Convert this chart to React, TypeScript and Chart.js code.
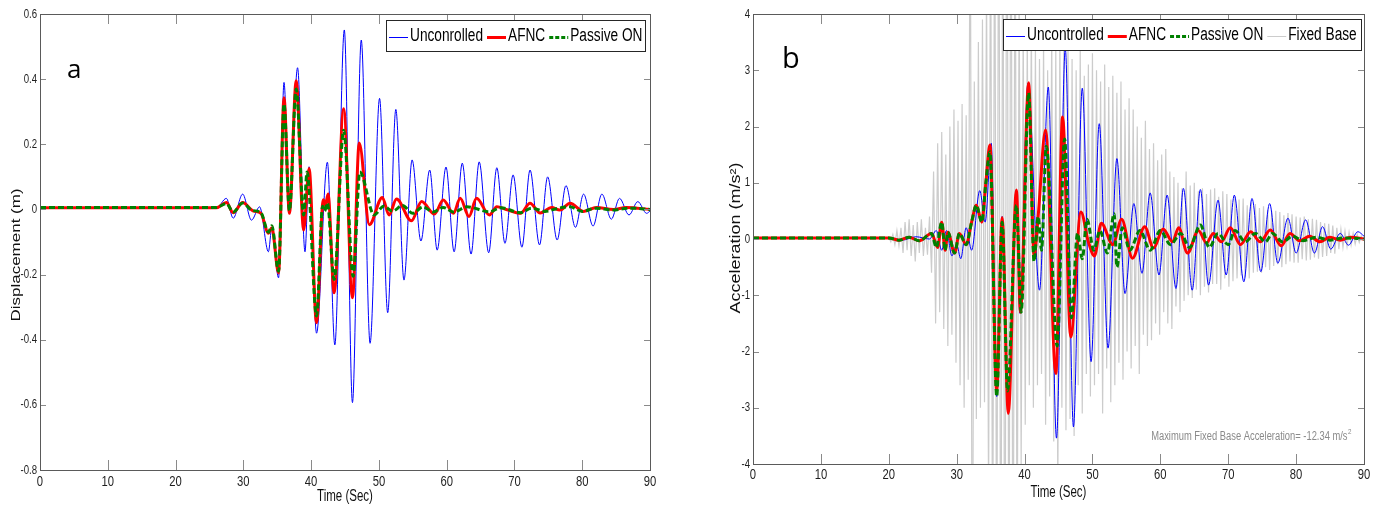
import { useEffect, useRef } from "react";
import { Chart, registerables } from "chart.js";

Chart.register(...registerables);

const SANS = "'Liberation Sans', Arial, sans-serif";
const LETTER = "'Open Sans', 'Noto Sans', sans-serif";

// ---------- Panel a: displacement (m) ----------
const dispUncTime = [0, 26, 27.5, 28.5, 29.9, 31.2, 32.4, 33.7, 34.2, 35.2, 36.0, 36.8, 38.0, 39.1, 39.7, 40.8, 42.4, 43.5, 44.9, 46.1, 47.4, 48.7, 50.1, 51.3, 52.5, 53.7, 54.9, 56.2, 57.5, 58.6, 59.9, 61.1, 62.3, 63.6, 64.8, 66.2, 67.4, 68.6, 69.8, 71.1, 72.3, 73.7, 74.9, 76.3, 77.6, 79.0, 80.2, 81.6, 82.9, 84.3, 85.5, 86.9, 88.2, 89.5, 90];
const dispUnc = [0.003, 0.003, 0.034, -0.027, 0.047, -0.033, 0.008, -0.13, -0.057, -0.21, 0.39, -0.007, 0.435, -0.13, 0.131, -0.38, 0.145, -0.416, 0.551, -0.593, 0.52, -0.411, 0.341, -0.317, 0.307, -0.217, 0.152, -0.097, 0.121, -0.125, 0.13, -0.13, 0.142, -0.137, 0.146, -0.133, 0.128, -0.104, 0.106, -0.116, 0.121, -0.109, 0.1, -0.094, 0.073, -0.055, 0.047, -0.051, 0.047, -0.03, 0.034, -0.017, 0.024, -0.012, -0.005];

const dispAfncTime = [0, 26, 27.5, 28.5, 29.9, 31.5, 32.6, 33.7, 34.2, 35.2, 36.0, 36.8, 37.8, 38.9, 39.7, 40.8, 41.8, 42.1, 42.5, 43.4, 44.8, 46.1, 47.1, 48.6, 50.5, 51.5, 52.6, 54.8, 56.3, 58.2, 59.5, 61.0, 62.0, 63.3, 64.4, 66.3, 67.4, 68.8, 70.9, 72.3, 73.8, 75.5, 76.7, 78.2, 80.2, 82.1, 84.6, 86.5, 90];
const dispAfnc = [0.005, 0.005, 0.021, -0.01, 0.021, -0.005, -0.012, -0.073, -0.056, -0.195, 0.343, -0.012, 0.395, -0.063, 0.126, -0.348, 0.03, 0.012, 0.047, -0.256, 0.309, -0.271, 0.204, -0.047, 0.037, -0.017, 0.032, -0.035, 0.024, -0.014, 0.029, -0.012, 0.034, -0.022, 0.034, -0.017, 0.008, 0.0, -0.012, 0.019, -0.011, 0.006, -0.002, 0.019, -0.006, 0.006, 0.0, 0.006, 0.0];

const dispPassTime = [0, 26, 27.5, 28.5, 29.9, 31.3, 32.6, 33.7, 34.2, 35.2, 36.0, 36.8, 37.8, 38.9, 39.4, 40.8, 41.7, 42.0, 42.4, 43.4, 44.8, 46.2, 47.2, 49.3, 50.7, 52.0, 53.5, 55.0, 56.5, 58.0, 59.5, 61.0, 63.0, 66.3, 68.0, 70.9, 72.5, 74.5, 76.5, 78.2, 80.0, 82.0, 84.5, 87.0, 90];
const dispPass = [0.006, 0.006, 0.018, -0.008, 0.02, -0.003, -0.01, -0.07, -0.05, -0.19, 0.324, -0.003, 0.37, -0.017, 0.115, -0.327, 0.01, -0.005, 0.02, -0.215, 0.243, -0.205, 0.115, -0.017, 0.01, -0.005, 0.012, -0.012, 0.008, -0.008, 0.006, -0.008, 0.008, -0.007, 0.005, -0.01, 0.004, -0.006, 0.004, 0.008, -0.006, 0.004, -0.002, 0.004, 0.0];

// ---------- Panel b: acceleration (m/s^2) ----------
const accUncTime = [0, 20, 22, 24, 26, 27.0, 27.8, 28.5, 29.3, 30.0, 30.6, 31.4, 32.2, 33.4, 34.2, 35.1, 35.9, 36.7, 37.6, 38.8, 39.3, 40.5, 42.2, 43.5, 44.7, 46.0, 47.2, 48.5, 49.8, 51.0, 52.3, 53.6, 54.8, 56.1, 57.3, 58.5, 59.8, 61.0, 62.3, 63.4, 64.7, 65.9, 67.1, 68.5, 69.7, 70.9, 72.3, 73.5, 74.8, 76.1, 77.3, 78.8, 80.0, 81.4, 82.7, 83.9, 85.1, 86.5, 87.7, 89.1, 90];
const accUnc = [0.02, 0.02, -0.02, 0.04, 0.0, 0.15, -0.2, 0.15, -0.3, -0.1, -0.35, 0.2, -0.2, 0.86, 0.3, 1.7, -2.8, 0.4, -3.07, 0.87, -1.32, 2.77, -0.91, 2.7, -3.54, 3.39, -3.34, 2.68, -2.18, 2.05, -1.94, 1.43, -0.97, 0.63, -0.61, 0.82, -0.64, 0.78, -0.88, 0.9, -0.91, 0.88, -0.82, 0.69, -0.64, 0.78, -0.76, 0.72, -0.58, 0.63, -0.43, 0.37, -0.25, 0.34, -0.25, 0.22, -0.18, 0.1, -0.11, 0.13, 0.05];

const accAfncTime = [0, 20, 21.5, 23, 24.5, 26.3, 27.2, 27.8, 28.3, 28.7, 29.7, 30.4, 31.4, 32.2, 32.9, 33.7, 34.3, 34.9, 35.9, 36.7, 37.6, 38.8, 39.4, 40.6, 41.4, 42.0, 43.1, 44.6, 45.6, 46.8, 48.3, 49.4, 50.3, 51.3, 53.0, 54.3, 55.9, 57.7, 59.0, 60.4, 61.8, 62.7, 64.0, 65.6, 66.8, 67.8, 69.0, 70.3, 71.8, 73.3, 74.7, 76.2, 77.8, 79.1, 80.5, 82.0, 83.5, 85.0, 86.5, 88.0, 90];
const accAfnc = [0.02, 0.02, -0.02, 0.03, -0.03, 0.1, -0.15, 0.3, -0.2, 0.12, -0.25, 0.1, -0.1, 0.3, 0.6, 0.3, 1.0, 1.67, -2.71, 0.38, -3.1, 0.87, -1.3, 2.78, -0.31, 0.4, 1.94, -2.39, 2.17, -1.74, 0.48, -0.05, -0.3, 0.28, -0.1, 0.35, -0.34, 0.22, -0.16, 0.18, -0.05, 0.2, -0.25, 0.15, -0.07, 0.1, -0.05, 0.2, -0.1, 0.13, -0.05, 0.16, -0.12, 0.1, -0.03, 0.05, -0.05, 0.03, -0.02, 0.03, 0.0];

const accPassTime = [0, 20, 21.5, 23, 24.5, 26.3, 27.0, 27.8, 28.3, 28.7, 29.7, 30.4, 31.4, 32.2, 32.9, 33.7, 34.3, 34.9, 35.9, 36.7, 37.5, 38.8, 39.5, 40.6, 41.4, 42.0, 42.5, 43.2, 44.8, 45.9, 46.9, 47.8, 48.5, 49.2, 50.2, 51.1, 52.2, 53.2, 53.6, 54.4, 55.5, 57.0, 58.5, 60.0, 61.5, 63.0, 64.3, 65.9, 67.2, 68.5, 70.0, 71.0, 72.5, 74.0, 75.5, 76.5, 78.0, 79.5, 81.0, 83.0, 85.0, 87.0, 90];
const accPass = [0.02, 0.02, -0.02, 0.03, -0.03, 0.1, -0.15, 0.3, -0.2, 0.12, -0.25, 0.1, -0.1, 0.3, 0.6, 0.3, 1.0, 1.55, -2.8, 0.3, -2.7, 0.6, -1.3, 2.6, -0.4, 0.4, -0.2, 1.65, -1.9, 1.78, -1.4, 0.1, -0.35, 0.35, -0.2, 0.15, -0.25, 0.45, -0.5, 0.2, -0.2, 0.15, -0.2, 0.15, -0.1, 0.1, -0.15, 0.25, -0.15, 0.1, -0.1, 0.15, -0.05, 0.1, -0.05, 0.1, -0.05, 0.05, -0.03, 0.03, -0.02, 0.02, 0.0];

// Fixed-base response, sampled every 0.3 s from 20 s
const fixedBaseStart = 20;
const fixedBaseStep = 0.3;
const fixedBase = [
  0.03, -0.05, 0.08, -0.1, 0.15, -0.12, 0.2, -0.25, 0.3, -0.2,
  0.35, -0.3, 0.25, -0.4, 0.3, -0.25, 0.35, -0.3, 0.2, -0.28,
  0.4, -0.6, 1.2, -1.5, 1.7, -1.3, 1.9, -1.6, 1.5, -1.9,
  2.0, -1.7, 2.3, -2.2, 2.1, -2.6, 2.4, -3.0, 2.2, -2.5,
  7.0, -8.0, 2.8, -3.2, 3.5, -3.0, 3.9, -2.9, 4.6, -4.8,
  6.5, -7.0, 7.5, -8.0, 9.0, -9.0, 8.0, -9.5, 10.0, -8.5,
  9.0, -9.0, 7.5, -6.5, 4.5, -4.0, 3.8, -3.3, 3.6, -2.6,
  3.9, -3.0, 3.4, -2.6, 3.2, -2.4, 3.5, -3.3, 3.0, -2.8,
  3.7, -3.6, 3.4, -4.5, 3.6, -3.0, 3.8, -3.4, 3.5, -3.2,
  3.2, -3.5, 3.0, -2.6, 3.4, -3.1, 2.9, -2.4, 3.1, -2.8,
  3.3, -2.6, 3.0, -2.4, 2.8, -3.1, 3.1, -2.3, 2.7, -2.9,
  2.9, -2.6, 2.6, -2.2, 2.8, -2.5, 2.3, -2.0, 2.5, -2.3,
  2.3, -1.9, 2.0, -2.4, 1.8, -1.7, 2.1, -1.9, 1.6, -1.8,
  1.7, -1.5, 1.4, -1.7, 1.5, -1.3, 1.6, -1.5, 1.2, -1.6,
  1.1, -1.2, 1.0, -1.3, 0.9, -1.1, 1.2, -1.0, 0.95, -1.05,
  1.0, -0.9, 0.85, -1.0, 0.9, -0.85, 0.8, -0.95, 0.88, -0.8,
  0.9, -0.8, 0.75, -0.9, 0.85, -0.7, 0.8, -0.85, 0.7, -0.75,
  0.75, -0.7, 0.7, -0.65, 0.72, -0.68, 0.6, -0.7, 0.65, -0.6,
  0.62, -0.58, 0.55, -0.6, 0.58, -0.5, 0.52, -0.55, 0.5, -0.48,
  0.5, -0.45, 0.48, -0.5, 0.42, -0.45, 0.46, -0.4, 0.44, -0.42,
  0.4, -0.42, 0.38, -0.36, 0.4, -0.38, 0.35, -0.37, 0.36, -0.33,
  0.34, -0.35, 0.3, -0.32, 0.28, -0.3, 0.27, -0.25, 0.24, -0.26,
  0.2, -0.18, 0.17, -0.15, 0.14, -0.13, 0.12, -0.11, 0.1, -0.09,
  0.08, -0.06, 0.05, -0.03,
];

const dispLabels = ["Unconrolled", "AFNC", "Passive ON"];
const accLabels = ["Uncontrolled", "AFNC", "Passive ON", "Fixed Base"];

function pts(t: number[], v: number[]) {
  return t.map((x, i) => ({ x, y: v[i] }));
}
function gridPts(start: number, step: number, v: number[]) {
  return v.map((y, i) => ({ x: +(start + i * step).toFixed(2), y }));
}
function fmt(v: number) {
  const r = Math.round(v * 10) / 10;
  return (r === 0 ? 0 : r).toString();
}

// draw horizontally condensed text (the MATLAB figure was squeezed)
function cText(ctx: any, text: string, x: number, y: number, size: number, sx: number, align: string, color: string, family = SANS) {
  ctx.save();
  ctx.font = `${size}px ${family}`;
  ctx.fillStyle = color;
  ctx.textBaseline = "middle";
  ctx.textAlign = "left";
  const w = ctx.measureText(text).width * sx;
  const x0 = align === "center" ? x - w / 2 : align === "right" ? x - w : x;
  ctx.translate(x0, y);
  ctx.scale(sx, 1);
  ctx.fillText(text, 0, 0);
  ctx.restore();
  return w;
}

// MATLAB-like box with inward ticks and condensed labels
const framePlugin = {
  id: "matlabFrame",
  afterDatasetsDraw(chart: any) {
    const { ctx, chartArea: a, scales } = chart;
    ctx.save();
    ctx.lineWidth = 1;
    ctx.strokeStyle = "#8a8a8a";
    const seg = (x1: number, y1: number, x2: number, y2: number) => {
      ctx.beginPath();
      ctx.moveTo(x1, y1);
      ctx.lineTo(x2, y2);
      ctx.stroke();
    };
    scales.x.ticks.forEach((tk: any) => {
      const px = Math.round(scales.x.getPixelForValue(tk.value)) + 0.5;
      if (px <= a.left + 2 || px >= a.right - 2) return;
      seg(px, a.bottom, px, a.bottom - 10);
      seg(px, a.top, px, a.top + 10);
    });
    scales.y.ticks.forEach((tk: any) => {
      const py = Math.round(scales.y.getPixelForValue(tk.value)) + 0.5;
      if (py <= a.top + 2 || py >= a.bottom - 2) return;
      seg(a.left, py, a.left + 6, py);
      seg(a.right, py, a.right - 6, py);
    });
    ctx.strokeStyle = "#5a5a5a";
    ctx.strokeRect(Math.round(a.left) + 0.5, Math.round(a.top) + 0.5, Math.round(a.right - a.left), Math.round(a.bottom - a.top));
    ctx.restore();
  },
  afterDraw(chart: any, _args: any, o: any) {
    if (!o || !o.display) return;
    const { ctx, chartArea: a, scales } = chart;
    const col = "#1e1e1e";
    scales.x.ticks.forEach((tk: any) => {
      const px = scales.x.getPixelForValue(tk.value);
      cText(ctx, fmt(tk.value), px, a.bottom + o.xTickDy, o.xTickSize, o.xTickSx, "center", col);
    });
    scales.y.ticks.forEach((tk: any) => {
      const py = scales.y.getPixelForValue(tk.value);
      cText(ctx, fmt(tk.value), a.left - o.yTickGap, py, o.yTickSize, o.yTickSx, "right", col);
    });
    cText(ctx, o.xTitle, (a.left + a.right) / 2, o.xTitleY, o.xTitleSize, o.xTitleSx, "center", "#111");
    // rotated y title, compressed across its glyph height
    ctx.save();
    ctx.font = `${o.yTitleSize}px ${SANS}`;
    ctx.fillStyle = "#111";
    ctx.textBaseline = "middle";
    ctx.textAlign = "center";
    ctx.translate(o.yTitleX, o.yTitleY);
    ctx.rotate(-Math.PI / 2);
    ctx.scale(1, o.yTitleSy);
    ctx.fillText(o.yTitle, 0, 0);
    ctx.restore();
  },
};

// Boxed legend in the upper-right corner
const boxLegendPlugin = {
  id: "boxLegend",
  afterDraw(chart: any, _args: any, opts: any) {
    if (!opts || !opts.display) return;
    const { ctx, chartArea: a } = chart;
    ctx.save();
    ctx.font = `${opts.fontSize}px ${SANS}`;
    const dss = chart.data.datasets;
    const widths = dss.map((ds: any) => ctx.measureText(ds.label).width * opts.sx);
    let w = opts.padL + opts.padR;
    widths.forEach((tw: number, i: number) => {
      w += opts.sample + opts.gapST + tw + (i < widths.length - 1 ? opts.gapTS : 0);
    });
    const right = Math.round(a.right - opts.right);
    const left = Math.round(right - w);
    const top = Math.round(a.top + opts.top);
    const h = opts.height;
    ctx.fillStyle = "#ffffff";
    ctx.fillRect(left, top, right - left, h);
    ctx.strokeStyle = "#262626";
    ctx.lineWidth = 1;
    ctx.strokeRect(left + 0.5, top + 0.5, right - left, h);
    let x = left + opts.padL;
    const cy = top + h / 2 + opts.textDy;
    dss.forEach((ds: any, i: number) => {
      ctx.save();
      ctx.strokeStyle = ds.borderColor;
      ctx.lineWidth = ds.borderWidth > 1.5 ? 3 : 1;
      ctx.setLineDash(ds.borderDash ? [4, 2] : []);
      ctx.beginPath();
      ctx.moveTo(x, Math.round(cy) + 0.5);
      ctx.lineTo(x + opts.sample, Math.round(cy) + 0.5);
      ctx.stroke();
      ctx.restore();
      x += opts.sample + opts.gapST;
      cText(ctx, ds.label, x, cy, opts.fontSize, opts.sx, "left", "#000");
      x += widths[i] + opts.gapTS;
    });
    ctx.restore();
  },
};

// Free text (panel letters, note)
const textPlugin = {
  id: "freeText",
  afterDraw(chart: any, _args: any, opts: any) {
    if (!opts || !opts.items) return;
    const { ctx } = chart;
    opts.items.forEach((it: any) => {
      if (it.sup) {
        ctx.save();
        ctx.font = `${it.supSize}px ${SANS}`;
        const sw = ctx.measureText(it.sup).width * it.sx;
        ctx.font = `${it.size}px ${SANS}`;
        const mw = ctx.measureText(it.text).width * it.sx;
        ctx.restore();
        const x0 = it.xRight - sw - mw;
        cText(ctx, it.text, x0, it.y, it.size, it.sx, "left", it.color);
        cText(ctx, it.sup, x0 + mw + 0.5, it.y - it.supRise, it.supSize, it.sx, "left", it.color);
      } else {
        ctx.save();
        ctx.font = it.font;
        ctx.fillStyle = it.color;
        ctx.textBaseline = "alphabetic";
        ctx.textAlign = "left";
        ctx.fillText(it.text, it.x, it.y);
        ctx.restore();
      }
    });
  },
};

function baseScales(o: any) {
  return {
    x: {
      type: "linear",
      min: 0,
      max: 90,
      ticks: { stepSize: 10, display: false },
      grid: { display: false, drawTicks: false },
      border: { display: false },
      afterFit: (s: any) => {
        s.height = o.xHeight;
      },
    },
    y: {
      type: "linear",
      min: o.yMin,
      max: o.yMax,
      ticks: { stepSize: o.yStep, display: false },
      grid: { display: false, drawTicks: false },
      border: { display: false },
      afterFit: (s: any) => {
        s.width = o.yWidth;
      },
    },
  };
}

function dispConfig(): any {
  return {
    type: "line",
    data: {
      datasets: [
        { label: dispLabels[0], data: pts(dispUncTime, dispUnc), borderColor: "#0000ff", borderWidth: 1, order: 2, cubicInterpolationMode: "monotone" },
        { label: dispLabels[1], data: pts(dispAfncTime, dispAfnc), borderColor: "#ff0000", borderWidth: 3, order: 1, cubicInterpolationMode: "monotone" },
        { label: dispLabels[2], data: pts(dispPassTime, dispPass), borderColor: "#008000", borderWidth: 3, borderDash: [6, 3], order: 0, cubicInterpolationMode: "monotone" },
      ],
    },
    options: {
      responsive: false,
      animation: false,
      events: [],
      elements: { point: { radius: 0 } },
      layout: { autoPadding: false, padding: { left: 0, right: 40, top: 14, bottom: 0 } },
      scales: baseScales({ xHeight: 44, yMin: -0.8, yMax: 0.6, yStep: 0.2, yWidth: 40 }),
      plugins: {
        legend: { display: false },
        tooltip: { enabled: false },
        matlabFrame: {
          display: true,
          xTickDy: 12, xTickSize: 15, xTickSx: 0.75,
          yTickGap: 3, yTickSize: 13, yTickSx: 0.74,
          xTitle: "Time (Sec)", xTitleY: 497, xTitleSize: 16, xTitleSx: 0.72,
          yTitle: "Displacement (m)", yTitleX: 16, yTitleY: 255, yTitleSize: 17, yTitleSy: 0.78,
        },
        boxLegend: { display: true, fontSize: 18, sx: 0.76, sample: 19, gapST: 2, gapTS: 4, padL: 3, padR: 3, right: 5, top: 6, height: 31, textDy: 1 },
        freeText: { items: [{ text: "a", x: 67, y: 78, font: `26px ${LETTER}`, color: "#000" }] },
      },
    },
    plugins: [framePlugin, boxLegendPlugin, textPlugin],
  };
}

function accConfig(): any {
  return {
    type: "line",
    data: {
      datasets: [
        { label: accLabels[0], data: pts(accUncTime, accUnc), borderColor: "#0000ff", borderWidth: 1, order: 2, cubicInterpolationMode: "monotone" },
        { label: accLabels[1], data: pts(accAfncTime, accAfnc), borderColor: "#ff0000", borderWidth: 3, order: 1, cubicInterpolationMode: "monotone" },
        { label: accLabels[2], data: pts(accPassTime, accPass), borderColor: "#008000", borderWidth: 3, borderDash: [6, 3], order: 0, cubicInterpolationMode: "monotone" },
        { label: accLabels[3], data: gridPts(fixedBaseStart, fixedBaseStep, fixedBase), borderColor: "#cccccc", borderWidth: 1.2, order: 3, tension: 0 },
      ],
    },
    options: {
      responsive: false,
      animation: false,
      events: [],
      elements: { point: { radius: 0 } },
      layout: { autoPadding: false, padding: { left: 0, right: 11, top: 14, bottom: 0 } },
      scales: baseScales({ xHeight: 50, yMin: -4, yMax: 4, yStep: 1, yWidth: 63 }),
      plugins: {
        legend: { display: false },
        tooltip: { enabled: false },
        matlabFrame: {
          display: true,
          xTickDy: 11, xTickSize: 15, xTickSx: 0.75,
          yTickGap: 3, yTickSize: 13, yTickSx: 0.74,
          xTitle: "Time (Sec)", xTitleY: 493, xTitleSize: 16, xTitleSx: 0.72,
          yTitle: "Acceleration (m/s\u00B2)", yTitleX: 46, yTitleY: 238, yTitleSize: 18, yTitleSy: 0.78,
        },
        boxLegend: { display: true, fontSize: 18, sx: 0.76, sample: 19, gapST: 2, gapTS: 4, padL: 3, padR: 4, right: 3, top: 5, height: 31, textDy: 1 },
        freeText: {
          items: [
            { text: "b", x: 92, y: 68, font: `29px ${LETTER}`, color: "#000" },
            { text: "Maximum Fixed Base Acceleration= -12.34 m/s", sup: "2", xRight: 661, y: 437, size: 12, supSize: 8, supRise: 5, sx: 0.78, color: "#8a8a8a" },
          ],
        },
      },
    },
    plugins: [framePlugin, boxLegendPlugin, textPlugin],
  };
}

function Panel({ make, left, width }: { make: () => any; left: number; width: number }) {
  const ref = useRef<HTMLCanvasElement | null>(null);
  useEffect(() => {
    if (!ref.current) return;
    const chart = new Chart(ref.current, make());
    return () => chart.destroy();
  }, []);
  return (
    <canvas
      ref={ref}
      width={width}
      height={514}
      style={{ position: "absolute", left, top: 0, width, height: 514, display: "block" }}
    />
  );
}

export default function App() {
  return (
    <div style={{ position: "absolute", left: 0, top: 0, width: 1375, height: 514, background: "#ffffff", overflow: "hidden" }}>
      <Panel make={dispConfig} left={0} width={690} />
      <Panel make={accConfig} left={690} width={685} />
    </div>
  );
}
